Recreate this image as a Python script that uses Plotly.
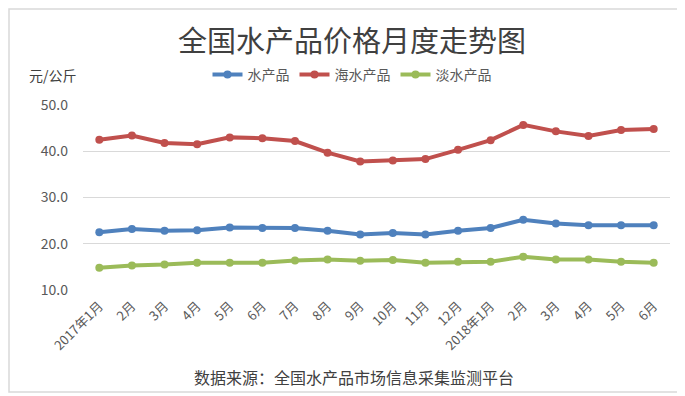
import plotly.graph_objects as go

months = ["2017年1月", "2月", "3月", "4月", "5月", "6月", "7月", "8月", "9月", "10月",
          "11月", "12月", "2018年1月", "2月", "3月", "4月", "5月", "6月"]
x_idx = list(range(len(months)))

aquatic = [22.5, 23.2, 22.8, 22.9, 23.5, 23.4, 23.4, 22.8, 22.0, 22.3,
           22.0, 22.8, 23.4, 25.2, 24.4, 24.0, 24.0, 24.0]
marine = [42.5, 43.4, 41.8, 41.5, 43.0, 42.8, 42.2, 39.7, 37.8, 38.0,
          38.3, 40.3, 42.4, 45.7, 44.3, 43.3, 44.6, 44.8]
fresh = [14.8, 15.3, 15.5, 15.9, 15.9, 15.9, 16.4, 16.6, 16.3, 16.5,
         15.9, 16.1, 16.1, 17.2, 16.6, 16.6, 16.1, 15.9]

series_names = ["水产品", "海水产品", "淡水产品"]
colors = ["#4F81BD", "#C0504D", "#9BBB59"]
yticks = [10, 20, 30, 40, 50]

# page body has a default 8px margin; work in reference-pixel coords minus this offset
OFF = 8
W, H = 685 - OFF, 396 - OFF
# plot area in reference pixels: x 83..670, y 105..290
ml, mr, mt, mb = 83 - OFF, 685 - 670, 105 - OFF, 396 - 290
pw, ph = W - ml - mr, H - mt - mb


def px(xr):
    return (xr - OFF - ml) / pw


def py(yr):
    return 1 - (yr - OFF - mt) / ph


fig = go.Figure()
for name, vals, c in zip(series_names, [aquatic, marine, fresh], colors):
    fig.add_trace(go.Scatter(
        x=x_idx, y=vals, name=name, mode="lines+markers",
        line=dict(color=c, width=4),
        marker=dict(color=c, size=8),
    ))

font_family = "Noto Sans CJK SC, Noto Sans, sans-serif"

fig.update_layout(
    width=W, height=H,
    margin=dict(l=ml, r=mr, t=mt, b=mb, autoexpand=False),
    paper_bgcolor="white", plot_bgcolor="white",
    font=dict(family=font_family, color="#595959", size=13),
    title=dict(text="全国水产品价格月度走势图", x=(352 - OFF) / W, xref="container", xanchor="center",
               y=1 - (42 - OFF) / H, yref="container", yanchor="middle",
               font=dict(size=29, color="#404040", family="Noto Sans CJK SC")),
    showlegend=True,
    legend=dict(orientation="h", x=px(352), xanchor="center", xref="paper",
                y=py(75), yanchor="middle",
                font=dict(size=14, color="#595959"), itemwidth=30,
                bgcolor="rgba(0,0,0,0)"),
    xaxis=dict(
        tickmode="array", tickvals=x_idx, ticktext=months,
        range=[-0.5, len(months) - 0.5], tickangle=-45, automargin=False,
        showgrid=False, showline=False, zeroline=False, ticks="", ticklabelstandoff=5,
        tickfont=dict(size=13, color="#595959"),
    ),
    yaxis=dict(
        range=[10, 50], tickvals=yticks, ticktext=[f"{v:.1f}" for v in yticks],
        showgrid=True, gridcolor="#D9D9D9", gridwidth=1, zeroline=False, automargin=False,
        showline=False, ticks="", ticklabelstandoff=14,
        tickfont=dict(size=14, color="#595959"),
    ),
)

# axis unit label
fig.add_annotation(text="元/公斤", xref="paper", yref="paper",
                   x=px(27), y=py(75),
                   xanchor="left", yanchor="middle", showarrow=False,
                   font=dict(size=14, color="#404040"))
# source note
fig.add_annotation(text="数据来源：全国水产品市场信息采集监测平台", xref="paper", yref="paper",
                   x=px(354), y=py(377),
                   xanchor="center", yanchor="middle", showarrow=False,
                   font=dict(size=16, color="#404040"))
# outer border (bottom and right edges fall inside the page)
fig.add_shape(type="rect", xref="paper", yref="paper",
              x0=px(9), x1=px(700), y0=py(392), y1=py(9),
              line=dict(color="#D9D9D9", width=1.5), fillcolor="rgba(0,0,0,0)", layer="below")

fig.write_html("out.html")
